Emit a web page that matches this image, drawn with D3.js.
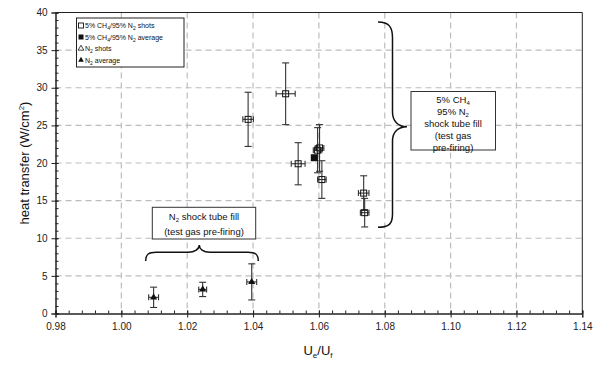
<!DOCTYPE html>
<html><head><meta charset="utf-8">
<script src="https://cdn.jsdelivr.net/npm/d3@7"></script>
<style>body{margin:0;background:#fff}svg{display:block}text{font-family:"Liberation Sans",Arial,sans-serif}</style>
</head><body><svg id="c" width="599" height="365"></svg>
<script>
// ---- data ----
const xTicks = [0.98,1.00,1.02,1.04,1.06,1.08,1.10,1.12,1.14];
const yTicks = [0,5,10,15,20,25,30,35,40];
const ch4ShotX = [1.0385,1.0499,1.0537,1.0602,1.0596,1.0609,1.0736,1.0739];
const ch4ShotY = [25.8,29.2,19.9,22.0,21.7,17.8,16.0,13.4];
const ch4ShotYErr = [3.6,4.1,2.8,3.1,3.0,2.5,2.3,1.9];
const ch4ShotXErr = [0.0016,0.0029,0.0021,0.0013,0.0013,0.0013,0.0016,0.0013];
const ch4AvgX = [1.0586];
const ch4AvgY = [20.7];
const n2X = [1.0098,1.0247,1.0396];
const n2Y = [2.15,3.2,4.2];
const n2YErr = [1.35,0.95,2.4];
const n2XErr = [0.0015,0.0012,0.0015];

const svg = d3.select("#c");
const L=55.5,R=582.3,T=12.5,B=313.5;
const x = d3.scaleLinear().domain([0.98,1.14]).range([L,R]);
const y = d3.scaleLinear().domain([0,40]).range([B,T]);

// grid
const g = svg.append("g");
g.selectAll(".gx").data(xTicks.slice(1,-1)).join("line")
 .attr("x1",d=>x(d)).attr("x2",d=>x(d)).attr("y1",T).attr("y2",B)
 .attr("stroke","#bdbdbd").attr("stroke-width",1.2).attr("stroke-dasharray","6,4");
g.selectAll(".gy").data(yTicks.slice(1,-1)).join("line")
 .attr("y1",d=>y(d)).attr("y2",d=>y(d)).attr("x1",L).attr("x2",R)
 .attr("stroke","#bdbdbd").attr("stroke-width",1.2).attr("stroke-dasharray","6,4");

// frame
svg.append("line").attr("x1",L).attr("x2",R).attr("y1",T).attr("y2",T).attr("stroke","#222");
svg.append("line").attr("x1",R).attr("x2",R).attr("y1",T).attr("y2",B).attr("stroke","#222");

// axes
const xMinor = d3.range(0.98,1.1401,0.004);
const yMinor = d3.range(0,40.01,1);
const xa = svg.append("g").attr("transform",`translate(0,${B})`);
xa.call(d3.axisBottom(x).tickValues(xMinor).tickSize(-3).tickFormat(""));
xa.append("g").call(d3.axisBottom(x).tickValues(xTicks).tickSize(4).tickFormat(d3.format(".2f")).tickPadding(5));
const ya = svg.append("g").attr("transform",`translate(${L},0)`);
ya.call(d3.axisLeft(y).tickValues(yMinor).tickSize(-3).tickFormat(""));
ya.append("g").call(d3.axisLeft(y).tickValues(yTicks).tickSize(4).tickPadding(4));
svg.selectAll(".domain").attr("stroke","#222");
svg.selectAll(".tick line").attr("stroke","#222");
svg.selectAll(".tick text").attr("font-size",10).attr("fill","#222").attr("font-family","Liberation Sans, Arial");
// major ticks cross axis
xa.selectAll("g g .tick line").attr("y1",-3);
ya.selectAll("g g .tick line").attr("x1",3);

// axis titles
svg.append("text").attr("transform","translate(29,163) rotate(-90)").attr("text-anchor","middle")
 .attr("font-size",13).attr("fill","#111")
 .html('heat transfer (W/cm<tspan dy="-5" font-size="8">2</tspan><tspan dy="5">)</tspan>');
svg.append("text").attr("x",318).attr("y",355).attr("text-anchor","middle").attr("font-size",13).attr("fill","#111")
 .html('U<tspan dy="3" font-size="8">e</tspan><tspan dy="-3">/U</tspan><tspan dy="3" font-size="8">f</tspan>');

// error bars
const ec="#333";
function errBars(X,Y,XE,YE){
  const eg=svg.append("g").attr("stroke",ec).attr("stroke-width",1.1).attr("fill","none");
  X.forEach((xv,i)=>{
    const cx=x(xv),cy=y(Y[i]),y1=y(Y[i]+YE[i]),y2=y(Y[i]-YE[i]),x1=x(xv-XE[i]),x2=x(xv+XE[i]);
    eg.append("line").attr("x1",cx).attr("x2",cx).attr("y1",y1).attr("y2",y2);
    eg.append("line").attr("x1",cx-3.5).attr("x2",cx+3.5).attr("y1",y1).attr("y2",y1);
    eg.append("line").attr("x1",cx-3.5).attr("x2",cx+3.5).attr("y1",y2).attr("y2",y2);
    eg.append("line").attr("x1",x1).attr("x2",x2).attr("y1",cy).attr("y2",cy);
    eg.append("line").attr("x1",x1).attr("x2",x1).attr("y1",cy-3).attr("y2",cy+3);
    eg.append("line").attr("x1",x2).attr("x2",x2).attr("y1",cy-3).attr("y2",cy+3);
  });
}
errBars(ch4ShotX,ch4ShotY,ch4ShotXErr,ch4ShotYErr);
errBars(n2X,n2Y,n2XErr,n2YErr);

// markers
svg.append("g").selectAll("rect").data(ch4ShotX).join("rect")
 .attr("x",(d,i)=>x(d)-3).attr("y",(d,i)=>y(ch4ShotY[i])-3).attr("width",6).attr("height",6)
 .attr("fill","none").attr("stroke","#111").attr("stroke-width",1);
svg.append("g").selectAll("rect").data(ch4AvgX).join("rect")
 .attr("x",(d,i)=>x(d)-3.5).attr("y",(d,i)=>y(ch4AvgY[i])-3.5).attr("width",7).attr("height",7)
 .attr("fill","#111");
const tri=d3.symbol().type(d3.symbolTriangle).size(22);
svg.append("g").selectAll("path").data(n2X).join("path")
 .attr("transform",(d,i)=>`translate(${x(d)},${y(n2Y[i])})`).attr("d",tri).attr("fill","#111");

// legend
const lg=svg.append("g");
lg.append("rect").attr("x",76.5).attr("y",18).attr("width",107.5).attr("height",49).attr("fill","#fff").attr("stroke","#222");
const ly=[25.5,37,48.5,60];
const lt=['5% CH<tspan dy="2" font-size="5">4</tspan><tspan dy="-2">/95% N</tspan><tspan dy="2" font-size="5">2</tspan><tspan dy="-2"> shots</tspan>',
 '5% CH<tspan dy="2" font-size="5">4</tspan><tspan dy="-2">/95% N</tspan><tspan dy="2" font-size="5">2</tspan><tspan dy="-2"> average</tspan>',
 'N<tspan dy="2" font-size="5">2</tspan><tspan dy="-2"> shots</tspan>',
 'N<tspan dy="2" font-size="5">2</tspan><tspan dy="-2"> average</tspan>'];
lt.forEach((t,i)=>lg.append("text").attr("x",85).attr("y",ly[i]+2.5).attr("font-size",7).attr("fill","#111").html(t));
lg.append("rect").attr("x",78.5).attr("y",ly[0]-2.5).attr("width",5).attr("height",5).attr("fill","none").attr("stroke","#111").attr("stroke-width",0.9);
lg.append("rect").attr("x",78.5).attr("y",ly[1]-2.5).attr("width",5).attr("height",5).attr("fill","#111");
lg.append("path").attr("transform",`translate(81,${ly[2]})`).attr("d",d3.symbol().type(d3.symbolTriangle).size(14)).attr("fill","none").attr("stroke","#111").attr("stroke-width",0.8);
lg.append("path").attr("transform",`translate(81,${ly[3]})`).attr("d",d3.symbol().type(d3.symbolTriangle).size(14)).attr("fill","#111");

// big brace (vertical)
svg.append("path").attr("fill","none").attr("stroke","#111").attr("stroke-width",1.5)
 .attr("d","M378,22 C389,22 392.5,27 392.5,38 L392.5,112 C392.5,121 398,126.7 407,126.7 C398,126.7 392.5,132 392.5,141 L392.5,214 C392.5,224 389,227.3 378,227.3");
// ch4 annotation box
svg.append("rect").attr("x",411).attr("y",91.5).attr("width",84.5).attr("height",58.5).attr("fill","#fff").attr("stroke","#333");
const at=['5% CH<tspan dy="2" font-size="6">4</tspan>','95% N<tspan dy="2" font-size="6">2</tspan>','shock tube fill','(test gas','pre-firing)'];
const aty=[103,115,127,139,150.5];
at.forEach((t,i)=>svg.append("text").attr("x",453).attr("y",aty[i]).attr("text-anchor","middle").attr("font-size",9.5).attr("fill","#111").html(t));

// small brace (horizontal)
svg.append("path").attr("fill","none").attr("stroke","#111").attr("stroke-width",1.5)
 .attr("d","M145.7,261 C145.7,254 149,252.3 156,252.3 L188,252.3 C195,252.3 199.3,249 199.3,245 C199.3,249 203,252.3 210,252.3 L248,252.3 C255,252.3 258.3,254 258.3,261");
svg.append("rect").attr("x",152.3).attr("y",207.3).attr("width",103.4).attr("height",31.7).attr("fill","#fff").attr("stroke","#333");
svg.append("text").attr("x",204).attr("y",219.5).attr("text-anchor","middle").attr("font-size",9.5).attr("fill","#111")
 .html('N<tspan dy="2" font-size="6">2</tspan><tspan dy="-2"> shock tube fill</tspan>');
svg.append("text").attr("x",204).attr("y",234.5).attr("text-anchor","middle").attr("font-size",9.5).attr("fill","#111").text("(test gas pre-firing)");
</script></body></html>
